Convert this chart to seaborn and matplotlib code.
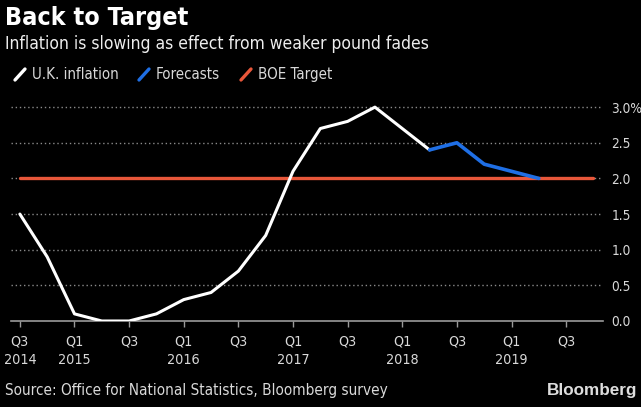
import matplotlib
matplotlib.use("Agg")
import matplotlib.pyplot as plt
import seaborn as sns
import pandas as pd
from matplotlib.lines import Line2D

# ---- data ----
quarters = ["Q3 2014", "Q4 2014", "Q1 2015", "Q2 2015", "Q3 2015", "Q4 2015",
            "Q1 2016", "Q2 2016", "Q3 2016", "Q4 2016", "Q1 2017", "Q2 2017",
            "Q3 2017", "Q4 2017", "Q1 2018", "Q2 2018", "Q3 2018", "Q4 2018",
            "Q1 2019", "Q2 2019", "Q3 2019", "Q4 2019"]
uk_inflation = [1.5, 0.9, 0.1, 0.0, 0.0, 0.1, 0.3, 0.4, 0.7, 1.2, 2.1, 2.7,
                2.8, 3.0, 2.7, 2.4]
forecasts = [2.4, 2.5, 2.2, 2.1, 2.0]          # Q2 2018 .. Q2 2019
boe_target = [2.0] * len(quarters)              # Q3 2014 .. Q4 2019
tick_labels = ["Q3\n2014", "Q1\n2015", "Q3", "Q1\n2016", "Q3", "Q1\n2017",
               "Q3", "Q1\n2018", "Q3", "Q1\n2019", "Q3"]
y_ticks = [0.0, 0.5, 1.0, 1.5, 2.0, 2.5, 3.0]
y_tick_labels = ["0.0", "0.5", "1.0", "1.5", "2.0", "2.5", "3.0%"]

WHITE = "#ffffff"
BLUE = "#1f6fe5"
ORANGE = "#e8573a"
GRID = "#8a8a8a"
TXT = "#d9d9d9"

sns.set_theme(style="dark")
plt.rcParams["font.family"] = ["DejaVu Sans"]
plt.rcParams["font.stretch"] = "condensed"

idx = {q: i for i, q in enumerate(quarters)}
df_uk = pd.DataFrame({"x": [idx[q] for q in quarters[:len(uk_inflation)]],
                      "y": uk_inflation})
f_start = idx["Q2 2018"]
df_fc = pd.DataFrame({"x": list(range(f_start, f_start + len(forecasts))),
                      "y": forecasts})
df_t = pd.DataFrame({"x": list(range(len(quarters))), "y": boe_target})

H = 407.0
W = 641.0
fig = plt.figure(figsize=(6.41, 4.07), dpi=100, facecolor="black")
ax = fig.add_axes([11.4 / W, 86 / H, (603 - 11.4) / W, 221 / H])
ax.set_facecolor("black")

# grid
for v in y_ticks[1:]:
    ax.axhline(v, color=GRID, lw=1.0, ls=(0, (1, 2)), zorder=1)

sns.lineplot(data=df_t, x="x", y="y", ax=ax, color=ORANGE, lw=2.4, zorder=3)
sns.lineplot(data=df_uk, x="x", y="y", ax=ax, color=WHITE, lw=2.2, zorder=4)
sns.lineplot(data=df_fc, x="x", y="y", ax=ax, color=BLUE, lw=2.6, zorder=5)

ax.set_xlim(-0.31, 21.35)
ax.set_ylim(0, 3.1)
ax.set_xlabel("")
ax.set_ylabel("")
ax.grid(False)
for s in ["top", "left", "right"]:
    ax.spines[s].set_visible(False)
ax.spines["bottom"].set_color("#9a9a9a")
ax.spines["bottom"].set_linewidth(1.2)

ax.set_xticks(list(range(0, 21, 2)))
ax.set_xticklabels(tick_labels, fontsize=10.3, color=TXT, linespacing=1.4)
ax.tick_params(axis="x", direction="out", length=4, width=1, color="#9a9a9a",
               pad=6, bottom=True)
ax.yaxis.tick_right()
ax.set_yticks(y_ticks)
ax.set_yticklabels(y_tick_labels, fontsize=9.8, color=TXT)
ax.tick_params(axis="y", length=0, pad=6, right=False)
for lab in ax.get_yticklabels():
    lab.set_horizontalalignment("left")

# titles
fig.text(5 / W, 1 - 25 / H, "Back to Target", fontsize=18,
         fontweight="bold", color="white", va="baseline")
fig.text(5 / W, 1 - 49.3 / H,
         "Inflation is slowing as effect from weaker pound fades",
         fontsize=12.5, color="#eeeeee", va="baseline")

# legend
leg = [(15, 31.5, WHITE, "U.K. inflation"), (139, 155.5, BLUE, "Forecasts"),
       (241, 258, ORANGE, "BOE Target")]
for x0, xt, c, t in leg:
    fig.add_artist(Line2D([x0 / W, (x0 + 10) / W],
                          [1 - 80 / H, 1 - 69 / H], color=c, lw=2.4,
                          transform=fig.transFigure))
    fig.text(xt / W, 1 - 79.3 / H, t, fontsize=10.8, color=TXT,
             va="baseline")

fig.text(5 / W, 1 - 395.3 / H,
         "Source: Office for National Statistics, Bloomberg survey",
         fontsize=11, color=TXT, va="baseline")
fig.text(637 / W, 1 - 395.5 / H, "Bloomberg", fontsize=12.3,
         fontweight="bold", color="#dddddd", va="baseline", ha="right",
         family=["Liberation Sans", "DejaVu Sans"], fontstretch="normal")

fig.savefig("out.png", dpi=100, facecolor="black")
